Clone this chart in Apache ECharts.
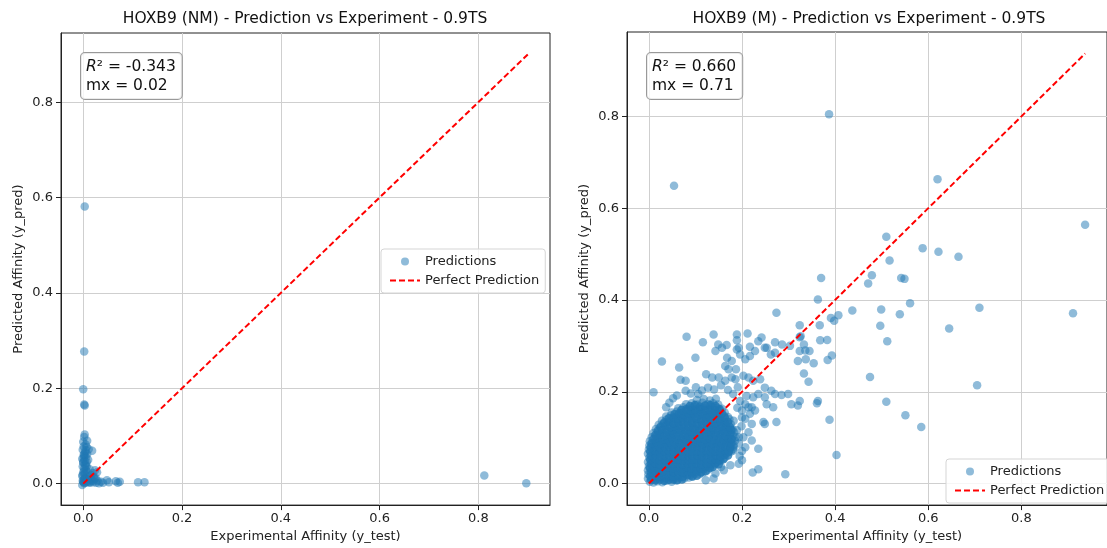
<!DOCTYPE html>
<html>
<head>
<meta charset="utf-8">
<script src="https://cdn.jsdelivr.net/npm/echarts@6.0.0/dist/echarts.min.js"></script>
<style>
  html, body { margin: 0; padding: 0; background: #fff; }
  #main { width: 1107px; height: 548px; }
</style>
</head>
<body>
<div id="main"></div>
<script>
const FONT = 'DejaVu Sans';
const BLUE = '#1f77b4';

// tick values shared by both panels
const tickValues = [0, 0.2, 0.4, 0.6, 0.8];

// ---------- HOXB9 (NM): [y_test, y_pred] ----------
const nmOutliers = [
  [0.003, 0.581], [0.002, 0.277], [0.000, 0.198], [0.002, 0.166], [0.003, 0.164],
  [0.003, 0.103], [0.812, 0.017], [0.897, 0.001], [0.111, 0.003], [0.124, 0.003]
];
const nmCluster = [
  [0.000, 0.088], [0.005, 0.082], [0.007, 0.077], [-0.001, 0.071], [0.004, 0.066],
  [0.001, 0.060], [0.006, 0.056], [-0.002, 0.052], [0.003, 0.048], [0.000, 0.044],
  [0.005, 0.040], [-0.001, 0.036], [0.002, 0.032], [0.006, 0.028], [0.000, 0.024],
  [0.003, 0.020], [-0.002, 0.016], [0.004, 0.012], [0.001, 0.008], [0.000, 0.004],
  [0.002, 0.001], [-0.002, -0.003], [0.003, 0.058], [0.001, 0.054], [0.008, 0.062],
  [0.010, 0.050], [0.007, 0.036], [0.009, 0.024], [0.012, 0.015], [0.006, 0.010],
  [0.010, 0.004], [0.014, 0.002], [0.017, 0.007], [0.020, 0.003], [0.023, 0.010],
  [0.026, 0.002], [0.029, 0.006], [0.032, 0.001], [0.036, 0.004], [0.040, 0.002],
  [0.016, 0.018], [0.021, 0.014], [0.024, 0.028], [0.019, 0.022], [0.013, 0.030],
  [0.048, 0.007], [0.052, 0.003], [0.066, 0.005], [0.070, 0.002], [0.074, 0.004],
  [0.018, 0.069], [0.011, 0.072], [0.008, 0.090], [0.002, 0.098],
  [0.001, 0.003], [0.003, 0.010], [-0.001, 0.018], [0.002, 0.026], [0.004, 0.038],
  [0.000, 0.046], [0.002, 0.062], [0.005, 0.070], [0.001, 0.078], [-0.001, 0.006],
  [0.005, 0.002], [0.008, 0.006], [0.012, 0.003], [0.015, 0.010], [0.020, 0.006],
  [0.025, 0.012], [0.028, 0.024], [0.007, 0.045]
];
const nmLine = [[0, 0], [0.9, 0.9]];

// ---------- HOXB9 (M): [y_test, y_pred] ----------
const mOutliers = [
  [0.387, 0.805], [0.054, 0.649], [0.620, 0.663], [0.937, 0.564], [0.510, 0.538],
  [0.588, 0.513], [0.622, 0.505], [0.665, 0.494], [0.517, 0.486], [0.370, 0.448],
  [0.479, 0.454], [0.471, 0.436], [0.542, 0.448], [0.549, 0.446], [0.363, 0.401],
  [0.437, 0.377], [0.499, 0.379], [0.561, 0.393], [0.539, 0.369], [0.710, 0.383],
  [0.911, 0.371], [0.391, 0.361], [0.398, 0.355], [0.407, 0.367], [0.324, 0.345],
  [0.367, 0.345], [0.497, 0.344], [0.645, 0.338], [0.368, 0.312], [0.383, 0.313],
  [0.512, 0.310], [0.324, 0.319], [0.333, 0.303], [0.324, 0.289], [0.336, 0.290],
  [0.345, 0.289], [0.320, 0.267], [0.337, 0.271], [0.354, 0.262], [0.384, 0.269],
  [0.393, 0.279], [0.333, 0.240], [0.343, 0.222], [0.475, 0.232], [0.705, 0.214],
  [0.324, 0.180], [0.320, 0.170], [0.363, 0.180], [0.361, 0.175], [0.510, 0.178],
  [0.551, 0.149], [0.585, 0.123], [0.388, 0.139], [0.403, 0.062]
];
const mMid = [
  [0.274, 0.372], [0.081, 0.320], [0.139, 0.325], [0.189, 0.325], [0.212, 0.327],
  [0.116, 0.308], [0.149, 0.303], [0.167, 0.302], [0.189, 0.312], [0.193, 0.296],
  [0.217, 0.298], [0.235, 0.310], [0.242, 0.318], [0.253, 0.296], [0.271, 0.308],
  [0.286, 0.303], [0.303, 0.300], [0.326, 0.321], [0.028, 0.266], [0.065, 0.253],
  [0.100, 0.274], [0.143, 0.289], [0.157, 0.296], [0.168, 0.274], [0.178, 0.267],
  [0.189, 0.292], [0.196, 0.281], [0.207, 0.271], [0.217, 0.278], [0.228, 0.289],
  [0.249, 0.296], [0.262, 0.281], [0.271, 0.285], [0.010, 0.199], [0.068, 0.226],
  [0.079, 0.224], [0.114, 0.203], [0.127, 0.209], [0.123, 0.238], [0.136, 0.231],
  [0.150, 0.231], [0.164, 0.256], [0.171, 0.249], [0.178, 0.231], [0.186, 0.227],
  [0.164, 0.224], [0.187, 0.249], [0.203, 0.235], [0.214, 0.231], [0.224, 0.224],
  [0.239, 0.227], [0.249, 0.209], [0.263, 0.202], [0.271, 0.195], [0.285, 0.193],
  [0.299, 0.195], [0.249, 0.188], [0.253, 0.173], [0.267, 0.166], [0.306, 0.173],
  [0.079, 0.202], [0.207, 0.173], [0.221, 0.166], [0.200, 0.159], [0.217, 0.152],
  [0.207, 0.141], [0.221, 0.130], [0.246, 0.134], [0.274, 0.134], [0.182, 0.137],
  [0.189, 0.116], [0.193, 0.101], [0.182, 0.080], [0.235, 0.076], [0.200, 0.071],
  [0.200, 0.051], [0.223, 0.024], [0.235, 0.031], [0.293, 0.020], [0.161, 0.029],
  [0.143, 0.022], [0.210, 0.191], [0.224, 0.188], [0.235, 0.195], [0.214, 0.166],
  [0.228, 0.159], [0.200, 0.144], [0.249, 0.130], [0.214, 0.112], [0.203, 0.101],
  [0.221, 0.094], [0.207, 0.079], [0.193, 0.043], [0.186, 0.101], [0.193, 0.087],
  [0.182, 0.072], [0.139, 0.011], [0.122, 0.007], [0.037, 0.166], [0.044, 0.176],
  [0.052, 0.186], [0.060, 0.192], [0.090, 0.196], [0.101, 0.210], [0.106, 0.195],
  [0.140, 0.205], [0.155, 0.214], [0.170, 0.204], [0.181, 0.195], [0.191, 0.210],
  [0.196, 0.180], [0.190, 0.165], [0.199, 0.125], [0.195, 0.060], [0.175, 0.040],
  [0.155, 0.036]
];
// dense core of the cloud, read row by row
const mCore = [
  [0.002, 0.004], [0.010, 0.002], [0.019, 0.005], [0.029, 0.003], [0.038, 0.006], [0.049, 0.004], [0.058, 0.007],
  [-0.002, 0.011], [0.007, 0.013], [0.016, 0.010], [0.026, 0.014], [0.035, 0.011], [0.046, 0.013], [0.055, 0.010], [0.066, 0.014], [0.076, 0.011], [0.086, 0.013], [0.094, 0.015],
  [-0.001, 0.020], [0.009, 0.022], [0.019, 0.019], [0.028, 0.023], [0.039, 0.020], [0.048, 0.022], [0.059, 0.019], [0.068, 0.023], [0.079, 0.021], [0.089, 0.019], [0.099, 0.022], [0.108, 0.020], [0.116, 0.024],
  [-0.002, 0.029], [0.006, 0.031], [0.017, 0.028], [0.027, 0.032], [0.036, 0.029], [0.047, 0.031], [0.056, 0.028], [0.066, 0.032], [0.077, 0.030], [0.087, 0.028], [0.096, 0.032], [0.107, 0.029], [0.117, 0.031], [0.127, 0.030],
  [0.000, 0.038], [0.011, 0.040], [0.021, 0.037], [0.031, 0.041], [0.042, 0.038], [0.051, 0.040], [0.062, 0.037], [0.071, 0.041], [0.082, 0.039], [0.092, 0.037], [0.101, 0.041], [0.112, 0.038], [0.122, 0.040], [0.132, 0.038], [0.141, 0.041],
  [-0.002, 0.047], [0.007, 0.049], [0.017, 0.046], [0.028, 0.050], [0.037, 0.047], [0.048, 0.049], [0.057, 0.046], [0.068, 0.050], [0.078, 0.048], [0.088, 0.046], [0.098, 0.050], [0.108, 0.047], [0.118, 0.049], [0.128, 0.046], [0.138, 0.050], [0.148, 0.048], [0.155, 0.051],
  [0.001, 0.056], [0.011, 0.058], [0.022, 0.055], [0.032, 0.059], [0.043, 0.056], [0.052, 0.058], [0.063, 0.055], [0.073, 0.059], [0.083, 0.057], [0.093, 0.055], [0.104, 0.059], [0.113, 0.056], [0.124, 0.058], [0.133, 0.055], [0.144, 0.059], [0.153, 0.057], [0.163, 0.056],
  [-0.002, 0.065], [0.008, 0.067], [0.018, 0.064], [0.029, 0.068], [0.038, 0.065], [0.049, 0.067], [0.058, 0.064], [0.069, 0.068], [0.079, 0.066], [0.089, 0.064], [0.099, 0.068], [0.110, 0.065], [0.119, 0.067], [0.130, 0.064], [0.139, 0.068], [0.150, 0.066], [0.159, 0.064], [0.169, 0.067], [0.176, 0.070],
  [0.000, 0.074], [0.011, 0.076], [0.021, 0.073], [0.031, 0.077], [0.042, 0.074], [0.052, 0.076], [0.062, 0.073], [0.072, 0.077], [0.083, 0.075], [0.093, 0.073], [0.103, 0.077], [0.113, 0.074], [0.124, 0.076], [0.134, 0.073], [0.144, 0.077], [0.155, 0.075], [0.164, 0.073], [0.174, 0.077], [0.181, 0.075],
  [0.001, 0.083], [0.008, 0.085], [0.019, 0.082], [0.029, 0.086], [0.039, 0.083], [0.050, 0.085], [0.060, 0.082], [0.070, 0.086], [0.081, 0.084], [0.091, 0.082], [0.101, 0.086], [0.112, 0.083], [0.121, 0.085], [0.132, 0.082], [0.142, 0.086], [0.152, 0.084], [0.162, 0.082], [0.172, 0.086], [0.182, 0.084],
  [0.002, 0.092], [0.013, 0.094], [0.023, 0.091], [0.033, 0.095], [0.044, 0.092], [0.054, 0.094], [0.064, 0.091], [0.075, 0.095], [0.085, 0.093], [0.095, 0.091], [0.106, 0.095], [0.116, 0.092], [0.126, 0.094], [0.136, 0.091], [0.147, 0.095], [0.157, 0.093], [0.167, 0.091], [0.177, 0.095], [0.185, 0.093],
  [0.006, 0.101], [0.016, 0.103], [0.027, 0.100], [0.037, 0.104], [0.047, 0.101], [0.058, 0.103], [0.068, 0.100], [0.078, 0.104], [0.089, 0.102], [0.099, 0.100], [0.109, 0.104], [0.120, 0.101], [0.130, 0.103], [0.140, 0.100], [0.151, 0.104], [0.161, 0.102], [0.171, 0.100], [0.181, 0.104],
  [0.010, 0.110], [0.020, 0.112], [0.031, 0.109], [0.041, 0.113], [0.051, 0.110], [0.062, 0.112], [0.072, 0.109], [0.082, 0.113], [0.093, 0.111], [0.103, 0.109], [0.113, 0.113], [0.124, 0.110], [0.134, 0.112], [0.144, 0.109], [0.155, 0.113], [0.165, 0.111], [0.175, 0.109], [0.183, 0.112],
  [0.015, 0.119], [0.025, 0.121], [0.036, 0.118], [0.046, 0.122], [0.056, 0.119], [0.067, 0.121], [0.077, 0.118], [0.087, 0.122], [0.098, 0.120], [0.108, 0.118], [0.118, 0.122], [0.129, 0.119], [0.139, 0.121], [0.149, 0.118], [0.160, 0.122], [0.170, 0.120], [0.180, 0.118],
  [0.021, 0.128], [0.031, 0.130], [0.042, 0.127], [0.052, 0.131], [0.062, 0.128], [0.073, 0.130], [0.083, 0.127], [0.093, 0.131], [0.104, 0.129], [0.114, 0.127], [0.124, 0.131], [0.135, 0.128], [0.145, 0.130], [0.155, 0.127], [0.166, 0.131], [0.176, 0.129],
  [0.028, 0.137], [0.038, 0.139], [0.049, 0.136], [0.059, 0.140], [0.069, 0.137], [0.080, 0.139], [0.090, 0.136], [0.100, 0.140], [0.111, 0.138], [0.121, 0.136], [0.131, 0.140], [0.142, 0.137], [0.152, 0.139], [0.162, 0.136], [0.173, 0.140],
  [0.037, 0.146], [0.047, 0.148], [0.058, 0.145], [0.068, 0.149], [0.078, 0.146], [0.089, 0.148], [0.099, 0.145], [0.109, 0.149], [0.120, 0.147], [0.130, 0.145], [0.140, 0.149], [0.151, 0.146], [0.161, 0.148], [0.170, 0.145],
  [0.049, 0.155], [0.060, 0.157], [0.071, 0.154], [0.081, 0.158], [0.091, 0.155], [0.102, 0.157], [0.112, 0.154], [0.122, 0.158], [0.133, 0.156], [0.143, 0.154], [0.153, 0.158], [0.163, 0.155],
  [0.063, 0.164], [0.074, 0.166], [0.085, 0.163], [0.095, 0.167], [0.106, 0.164], [0.116, 0.166], [0.127, 0.163], [0.137, 0.167], [0.147, 0.165], [0.157, 0.163],
  [0.080, 0.173], [0.092, 0.175], [0.104, 0.172], [0.115, 0.176], [0.127, 0.173], [0.138, 0.175], [0.149, 0.172],
  [0.103, 0.182], [0.118, 0.184], [0.131, 0.181], [0.144, 0.185]
];
// innermost part of the cloud, where thousands of points overlap into solid colour
const mCoreInner = [
  [0.005, 0.008], [0.014, 0.007], [0.024, 0.009], [0.033, 0.006], [0.043, 0.008], [0.052, 0.009], [0.061, 0.007], [0.071, 0.009],
  [0.003, 0.016], [0.012, 0.018], [0.022, 0.015], [0.032, 0.017], [0.042, 0.018], [0.052, 0.016], [0.063, 0.017], [0.073, 0.015], [0.083, 0.018], [0.093, 0.016], [0.103, 0.017],
  [0.004, 0.025], [0.014, 0.027], [0.024, 0.024], [0.033, 0.026], [0.043, 0.027], [0.053, 0.025], [0.063, 0.026], [0.073, 0.024], [0.083, 0.027], [0.092, 0.025], [0.102, 0.026], [0.112, 0.024], [0.122, 0.027],
  [0.002, 0.034], [0.012, 0.036], [0.022, 0.033], [0.032, 0.035], [0.041, 0.036], [0.052, 0.034], [0.061, 0.035], [0.072, 0.033], [0.081, 0.036], [0.091, 0.034], [0.102, 0.035], [0.111, 0.033], [0.122, 0.036], [0.131, 0.034], [0.137, 0.036],
  [0.004, 0.043], [0.013, 0.045], [0.023, 0.042], [0.033, 0.044], [0.043, 0.045], [0.053, 0.043], [0.063, 0.044], [0.073, 0.042], [0.083, 0.045], [0.093, 0.043], [0.103, 0.044], [0.113, 0.042], [0.123, 0.045], [0.133, 0.043], [0.143, 0.044], [0.150, 0.042],
  [0.003, 0.052], [0.013, 0.054], [0.023, 0.051], [0.033, 0.053], [0.043, 0.054], [0.053, 0.052], [0.063, 0.053], [0.073, 0.051], [0.083, 0.054], [0.093, 0.052], [0.103, 0.053], [0.113, 0.051], [0.123, 0.054], [0.133, 0.052], [0.143, 0.053], [0.152, 0.051], [0.160, 0.053],
  [0.004, 0.061], [0.014, 0.063], [0.024, 0.060], [0.034, 0.062], [0.044, 0.063], [0.054, 0.061], [0.064, 0.062], [0.074, 0.060], [0.084, 0.063], [0.094, 0.061], [0.104, 0.062], [0.114, 0.060], [0.124, 0.063], [0.134, 0.061], [0.144, 0.062], [0.154, 0.060], [0.163, 0.063], [0.170, 0.061],
  [0.003, 0.070], [0.013, 0.072], [0.023, 0.069], [0.033, 0.071], [0.043, 0.072], [0.053, 0.070], [0.063, 0.071], [0.073, 0.069], [0.083, 0.072], [0.093, 0.070], [0.103, 0.071], [0.113, 0.069], [0.123, 0.072], [0.133, 0.070], [0.143, 0.071], [0.153, 0.069], [0.163, 0.072], [0.172, 0.070],
  [0.004, 0.079], [0.014, 0.081], [0.024, 0.078], [0.034, 0.080], [0.044, 0.081], [0.054, 0.079], [0.064, 0.080], [0.074, 0.078], [0.084, 0.081], [0.094, 0.079], [0.104, 0.080], [0.114, 0.078], [0.124, 0.081], [0.134, 0.079], [0.144, 0.080], [0.154, 0.078], [0.164, 0.081], [0.175, 0.079],
  [0.006, 0.088], [0.016, 0.090], [0.026, 0.087], [0.036, 0.089], [0.046, 0.090], [0.056, 0.088], [0.066, 0.089], [0.076, 0.087], [0.086, 0.090], [0.096, 0.088], [0.106, 0.089], [0.116, 0.087], [0.126, 0.090], [0.136, 0.088], [0.146, 0.089], [0.156, 0.087], [0.166, 0.090], [0.177, 0.088],
  [0.010, 0.097], [0.020, 0.099], [0.030, 0.096], [0.040, 0.098], [0.050, 0.099], [0.060, 0.097], [0.070, 0.098], [0.080, 0.096], [0.090, 0.099], [0.100, 0.097], [0.110, 0.098], [0.120, 0.096], [0.130, 0.099], [0.140, 0.097], [0.150, 0.098], [0.160, 0.096], [0.170, 0.099], [0.178, 0.097],
  [0.014, 0.106], [0.024, 0.108], [0.034, 0.105], [0.044, 0.107], [0.054, 0.108], [0.064, 0.106], [0.074, 0.107], [0.084, 0.105], [0.094, 0.108], [0.104, 0.106], [0.114, 0.107], [0.124, 0.105], [0.134, 0.108], [0.144, 0.106], [0.154, 0.107], [0.164, 0.105], [0.175, 0.108],
  [0.019, 0.115], [0.029, 0.117], [0.039, 0.114], [0.049, 0.116], [0.059, 0.117], [0.069, 0.115], [0.079, 0.116], [0.089, 0.114], [0.099, 0.117], [0.109, 0.115], [0.119, 0.116], [0.129, 0.114], [0.139, 0.117], [0.149, 0.115], [0.159, 0.116], [0.169, 0.114], [0.177, 0.117],
  [0.025, 0.124], [0.035, 0.126], [0.045, 0.123], [0.055, 0.125], [0.065, 0.126], [0.075, 0.124], [0.085, 0.125], [0.095, 0.123], [0.105, 0.126], [0.115, 0.124], [0.125, 0.125], [0.135, 0.123], [0.145, 0.126], [0.155, 0.124], [0.165, 0.125], [0.174, 0.123],
  [0.033, 0.133], [0.043, 0.135], [0.053, 0.132], [0.063, 0.134], [0.073, 0.135], [0.083, 0.133], [0.093, 0.134], [0.103, 0.132], [0.113, 0.135], [0.123, 0.133], [0.133, 0.134], [0.143, 0.132], [0.153, 0.135], [0.163, 0.133], [0.170, 0.134],
  [0.043, 0.142], [0.053, 0.144], [0.063, 0.141], [0.073, 0.143], [0.083, 0.144], [0.093, 0.142], [0.103, 0.143], [0.113, 0.141], [0.123, 0.144], [0.133, 0.142], [0.143, 0.143], [0.153, 0.141], [0.163, 0.144],
  [0.055, 0.151], [0.065, 0.153], [0.075, 0.150], [0.086, 0.152], [0.096, 0.153], [0.106, 0.151], [0.116, 0.152], [0.127, 0.150], [0.137, 0.153], [0.147, 0.151], [0.157, 0.152],
  [0.070, 0.160], [0.080, 0.162], [0.090, 0.159], [0.100, 0.161], [0.111, 0.162], [0.121, 0.160], [0.131, 0.161], [0.142, 0.159], [0.152, 0.162],
  [0.088, 0.169], [0.099, 0.171], [0.110, 0.168], [0.121, 0.170], [0.132, 0.171], [0.143, 0.169]
];
const mLine = [[0, 0], [0.937, 0.937]];

const titles = [
  'HOXB9 (NM) - Prediction vs Experiment - 0.9TS',
  'HOXB9 (M) - Prediction vs Experiment - 0.9TS'
];
const statTexts = [
  '{it|R}\u00b2 = -0.343\nmx = 0.02',
  '{it|R}\u00b2 = 0.660\nmx = 0.71'
];

const chart = echarts.init(document.getElementById('main'), null, { renderer: 'canvas' });

function xAxisFor(idx, min, max) {
  return {
    gridIndex: idx, type: 'value', min: min, max: max,
    name: 'Experimental Affinity (y_test)', nameLocation: 'middle', nameGap: 24,
    nameTextStyle: { fontFamily: FONT, fontSize: 13, color: '#222' },
    axisLine: { show: true, onZero: false, lineStyle: { color: '#222', width: 1 } },
    axisTick: { show: true, length: 5, customValues: tickValues, lineStyle: { color: '#222' } },
    axisLabel: { customValues: tickValues, formatter: v => v.toFixed(1), fontFamily: FONT, fontSize: 13, color: '#222', margin: 7 },
    splitLine: { show: true, lineStyle: { color: '#cfcfcf', width: 1 } }
  };
}
function yAxisFor(idx, min, max) {
  return {
    gridIndex: idx, type: 'value', min: min, max: max,
    name: 'Predicted Affinity (y_pred)', nameLocation: 'middle', nameGap: 36, nameRotate: 90,
    nameTextStyle: { fontFamily: FONT, fontSize: 13, color: '#222' },
    axisLine: { show: true, onZero: false, lineStyle: { color: '#222', width: 1 } },
    axisTick: { show: true, length: 5, customValues: tickValues, lineStyle: { color: '#222' } },
    axisLabel: { customValues: tickValues, formatter: v => v.toFixed(1), fontFamily: FONT, fontSize: 13, color: '#222', margin: 8 },
    splitLine: { show: true, lineStyle: { color: '#cfcfcf', width: 1 } }
  };
}
function scatterFor(idx, data, opacity) {
  return {
    name: 'Predictions', type: 'scatter', xAxisIndex: idx, yAxisIndex: idx,
    data: data, symbolSize: 8.5,
    itemStyle: { color: BLUE, opacity: opacity }
  };
}
function lineFor(idx, data) {
  return {
    name: 'Perfect Prediction', type: 'line', xAxisIndex: idx, yAxisIndex: idx,
    data: data, symbol: 'none', z: 5,
    lineStyle: { color: '#ff0000', width: 2, type: [6, 3] }
  };
}
function legendAt(left, top) {
  return {
    data: ['Predictions', { name: 'Perfect Prediction', itemStyle: { opacity: 0 } }],
    orient: 'vertical',
    left: left, top: top, itemWidth: 30, itemHeight: 8, itemGap: 4,
    padding: [5, 6, 5, 8], selectedMode: false,
    backgroundColor: 'rgba(255,255,255,0.8)', borderColor: '#d5d5d5', borderWidth: 1, borderRadius: 3,
    textStyle: { fontFamily: FONT, fontSize: 13, color: '#222', lineHeight: 15 }
  };
}
function statBox(x, y, text) {
  return {
    type: 'text', x: x, y: y, z: 100,
    style: {
      text: text, fontFamily: FONT, fontSize: 15.5, lineHeight: 19, fill: '#111',
      rich: { it: { fontFamily: FONT, fontStyle: 'italic', fontSize: 15.5, lineHeight: 19 } },
      backgroundColor: 'rgba(255,255,255,0.8)', borderColor: '#999', borderWidth: 1,
      borderRadius: 4, padding: [4, 6, 4, 5]
    }
  };
}
function titleText(x, text) {
  return {
    type: 'text', x: x, y: 19,
    style: { text: text, fontFamily: FONT, fontSize: 15.5, fill: '#111', align: 'center', verticalAlign: 'middle' }
  };
}

const option = {
  animation: false,
  backgroundColor: '#ffffff',
  textStyle: { fontFamily: FONT },
  grid: [
    { left: 61, top: 33, width: 489, height: 475, show: true, borderColor: '#222', borderWidth: 1 },
    { left: 627, top: 32, width: 485, height: 476, show: true, borderColor: '#222', borderWidth: 1 }
  ],
  xAxis: [xAxisFor(0, -0.045, 0.945), xAxisFor(1, -0.047, 0.984)],
  yAxis: [yAxisFor(0, -0.045, 0.945), yAxisFor(1, -0.047, 0.984)],
  legend: [legendAt(381, 249), legendAt(946, 459)],
  series: [
    scatterFor(0, nmOutliers.concat(nmCluster), 0.5),
    lineFor(0, nmLine),
    scatterFor(1, mOutliers.concat(mMid, mCore), 0.5),
    scatterFor(1, mCoreInner, 0.8),
    lineFor(1, mLine)
  ],
  graphic: [
    titleText(305, titles[0]),
    titleText(869, titles[1]),
    statBox(81, 53, statTexts[0]),
    statBox(647, 53, statTexts[1])
  ]
};

chart.setOption(option);
</script>
</body>
</html>
